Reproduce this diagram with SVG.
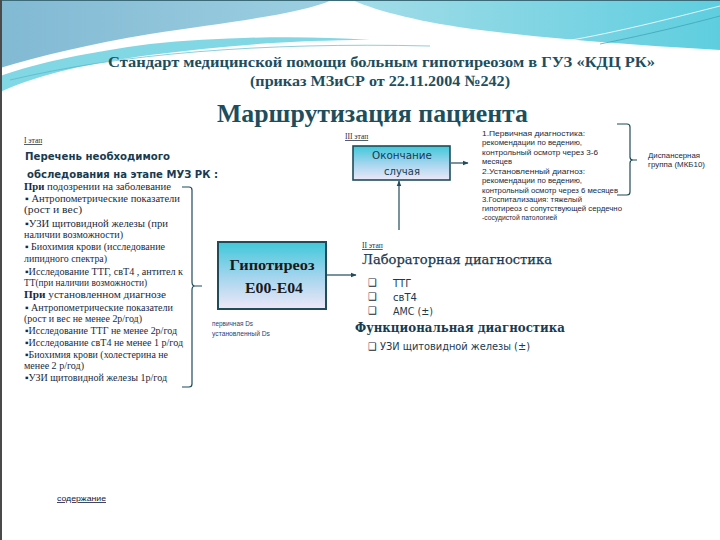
<svg xmlns="http://www.w3.org/2000/svg" width="720" height="540" viewBox="0 0 720 540">
<defs>
<linearGradient id="gLeft" x1="0" y1="0" x2="1" y2="0"><stop offset="0" stop-color="#82b9d3"/><stop offset="1" stop-color="#9ccfe1"/></linearGradient>
<linearGradient id="gRight" x1="0" y1="0" x2="1" y2="0"><stop offset="0" stop-color="#a4dce8"/><stop offset="1" stop-color="#5ecedf"/></linearGradient>
<linearGradient id="gBox" x1="0" y1="0" x2="0" y2="1"><stop offset="0" stop-color="#3fc8d9"/><stop offset="0.5" stop-color="#a0d4ee"/><stop offset="1" stop-color="#eee8f7"/></linearGradient>
<marker id="arr" viewBox="0 0 10 10" refX="9" refY="5" markerWidth="5" markerHeight="5" orient="auto"><path d="M0,1 L10,5 L0,9 Z" fill="#1f4b5a"/></marker>
<style>
.title{font-family:"Liberation Serif",serif;font-weight:bold;fill:#1d4e5e}
.stage{font-family:"Liberation Serif",serif;font-size:7.5px;fill:#1a2a40;text-decoration:underline}
.head{font-family:"DejaVu Sans",sans-serif;font-weight:bold;font-size:11px;fill:#1a3a4f}
.list{font-family:"Liberation Serif",serif;font-size:10px;fill:#1a2a40}
.small{font-family:"Liberation Sans",sans-serif;font-size:7.5px;fill:#1a2a40}
.tiny{font-family:"Liberation Sans",sans-serif;font-size:6.5px;fill:#1f3f7a}
.box{fill:url(#gBox);stroke:#1f4b5a}
.boxt{font-family:"Liberation Serif",serif;font-weight:bold;font-size:15px;fill:#1a1a1a}
.boxs{font-family:"DejaVu Sans",sans-serif;font-size:10px;fill:#1a3a4f}
.lab{font-family:"DejaVu Serif",serif;font-size:13px;fill:#1a3a4f}
.item{font-family:"DejaVu Sans",sans-serif;font-size:10px;fill:#1a3a4f}
.chk{font-family:"DejaVu Sans",sans-serif;font-size:10px;font-weight:bold;fill:#1a2a3a}
.conn{fill:none;stroke:#1f4b5a;stroke-width:1.2}
</style>
</defs>
<rect width="720" height="540" fill="#ffffff"/>
<g id="background">
<path d="M0,0 H332 C300,14 230,22 150,34 C90,44 40,56 0,68 Z" fill="url(#gLeft)"/>
<path d="M0,76 C40,62 90,52 150,44 C220,37 300,35 370,40 C290,40 220,46 150,55 C90,63 40,74 0,92 Z" fill="#62cddd" opacity="0.8"/>
<path d="M352,0 H720 V50 C650,46 560,40 480,30 C420,22 380,12 352,0 Z" fill="url(#gRight)"/>
<path d="M10,80 C120,54 260,42 430,46" fill="none" stroke="#4fb2c4" stroke-width="0.8" opacity="0.8"/>
<path d="M560,42 C620,32 680,16 720,6" fill="none" stroke="#ffffff" stroke-width="0.8"/>
<path d="M600,44 C650,34 690,24 720,16" fill="none" stroke="#3a9fb0" stroke-width="0.7"/>
<line x1="0" y1="0.5" x2="720" y2="0.5" stroke="#3b6a78" stroke-width="1"/>
<rect x="0" y="0" width="2" height="540" fill="#4a4a4a"/>
</g>
<g id="titles">
<text class="title" x="108" y="67" font-size="15.5" textLength="547" lengthAdjust="spacingAndGlyphs">Стандарт медицинской помощи больным гипотиреозом  в  ГУЗ «КДЦ РК»</text>
<text class="title" x="250" y="86" font-size="15.5" textLength="260" lengthAdjust="spacingAndGlyphs">(приказ МЗиСР от 22.11.2004 №242)</text>
<text class="title" x="217" y="122" font-size="25" textLength="311" lengthAdjust="spacingAndGlyphs">Маршрутизация пациента</text>
</g>
<g id="stage1">
<text class="stage" x="24" y="143">I этап</text>
<text class="head" x="25" y="160" textLength="145" lengthAdjust="spacingAndGlyphs">Перечень необходимого</text>
<text class="head" x="27" y="178" textLength="191" lengthAdjust="spacingAndGlyphs"> обследования на этапе МУЗ РК :</text>
<text class="list" x="24" y="190" textLength="147" lengthAdjust="spacingAndGlyphs"><tspan font-weight="bold">При</tspan>  подозрении на заболевание</text>
<text class="list" x="25" y="202" textLength="155" lengthAdjust="spacingAndGlyphs">▪ Антропометрические показатели</text>
<text class="list" x="24" y="213" textLength="58" lengthAdjust="spacingAndGlyphs">(рост и вес)</text>
<text class="list" x="25" y="227" textLength="143" lengthAdjust="spacingAndGlyphs">▪УЗИ щитовидной железы (при</text>
<text class="list" x="24" y="238" textLength="99" lengthAdjust="spacingAndGlyphs">наличии возможности)</text>
<text class="list" x="25" y="250" textLength="140" lengthAdjust="spacingAndGlyphs">▪ Биохимия крови (исследование</text>
<text class="list" x="24" y="262" textLength="83" lengthAdjust="spacingAndGlyphs">липидного спектра)</text>
<text class="list" x="25" y="275" textLength="158" lengthAdjust="spacingAndGlyphs">▪Исследование ТТГ, свТ4 , антител к</text>
<text class="list" x="24" y="286" textLength="123" lengthAdjust="spacingAndGlyphs">ТТ(при наличии возможности)</text>
<text class="list" x="24" y="298" textLength="142" lengthAdjust="spacingAndGlyphs"><tspan font-weight="bold">При</tspan>  установленном диагнозе</text>
<text class="list" x="25" y="311" textLength="148" lengthAdjust="spacingAndGlyphs">▪ Антропометрические показатели</text>
<text class="list" x="24" y="322" textLength="118" lengthAdjust="spacingAndGlyphs">(рост и вес не менее 2р/год)</text>
<text class="list" x="25" y="334" textLength="152" lengthAdjust="spacingAndGlyphs">▪Исследование ТТГ не менее 2р/год</text>
<text class="list" x="25" y="346" textLength="158" lengthAdjust="spacingAndGlyphs">▪Исследование  свТ4 не менее 1 р/год</text>
<text class="list" x="25" y="358" textLength="143" lengthAdjust="spacingAndGlyphs">▪Биохимия крови (холестерина не</text>
<text class="list" x="24" y="369" textLength="60" lengthAdjust="spacingAndGlyphs">менее 2 р/год)</text>
<text class="list" x="25" y="381" textLength="142" lengthAdjust="spacingAndGlyphs">▪УЗИ щитовидной железы 1р/год</text>
</g>
<g id="hypothyroidism">
<rect class="box" x="218" y="242" width="108" height="67" stroke-width="2"/>
<text class="boxt" x="272" y="270" text-anchor="middle" textLength="85" lengthAdjust="spacingAndGlyphs">Гипотиреоз</text>
<text class="boxt" x="274" y="293" text-anchor="middle" textLength="58" lengthAdjust="spacingAndGlyphs">Е00-Е04</text>
<text class="tiny" x="212" y="326" textLength="41" lengthAdjust="spacingAndGlyphs">первичная  Ds</text>
<text class="tiny" x="212" y="336" textLength="58" lengthAdjust="spacingAndGlyphs">установленный  Ds</text>
</g>
<g id="case-end">
<text class="stage" x="345" y="139">III этап</text>
<rect class="box" x="353" y="146" width="97" height="34" stroke-width="1.6"/>
<text class="boxs" x="402" y="159" text-anchor="middle" textLength="60" lengthAdjust="spacingAndGlyphs">Окончание</text>
<text class="boxs" x="402" y="175" text-anchor="middle">случая</text>
</g>
<g id="follow-up">
<text class="small" x="482" y="136" textLength="103" lengthAdjust="spacingAndGlyphs">1.Первичная диагностика:</text>
<text class="small" x="482" y="145" textLength="100" lengthAdjust="spacingAndGlyphs">рекомендации по ведению,</text>
<text class="small" x="482" y="155" textLength="116" lengthAdjust="spacingAndGlyphs">контрольный осмотр через 3-6</text>
<text class="small" x="482" y="164" textLength="30" lengthAdjust="spacingAndGlyphs">месяцев</text>
<text class="small" x="482" y="174" textLength="103" lengthAdjust="spacingAndGlyphs">2.Установленный диагноз:</text>
<text class="small" x="482" y="183" textLength="100" lengthAdjust="spacingAndGlyphs">рекомендации по ведению,</text>
<text class="small" x="482" y="193" textLength="136" lengthAdjust="spacingAndGlyphs">контрольный осмотр через 6 месяцев</text>
<text class="small" x="482" y="202" textLength="100" lengthAdjust="spacingAndGlyphs">3.Госпитализация: тяжелый</text>
<text class="small" x="482" y="211" textLength="140" lengthAdjust="spacingAndGlyphs">гипотиреоз с сопутствующей сердечно</text>
<text class="small" x="482" y="220" textLength="75" lengthAdjust="spacingAndGlyphs">-сосудистой патологией</text>
</g>
<g id="dispensary">
<text class="small" x="648" y="158" textLength="52" lengthAdjust="spacingAndGlyphs">Диспансерная</text>
<text class="small" x="648" y="167" textLength="57" lengthAdjust="spacingAndGlyphs">группа (МКБ10)</text>
</g>
<g id="stage2">
<text class="stage" x="362" y="248">II этап</text>
<text class="lab" x="362" y="264" textLength="190" lengthAdjust="spacingAndGlyphs" stroke="#1a3a4f" stroke-width="0.25">Лабораторная диагностика</text>
<text class="chk" x="368" y="286">❑</text>
<text class="item" x="393" y="287">ТТГ</text>
<text class="chk" x="368" y="300">❑</text>
<text class="item" x="393" y="301">свТ4</text>
<text class="chk" x="368" y="314">❑</text>
<text class="item" x="393" y="315" textLength="40" lengthAdjust="spacingAndGlyphs">АМС (±)</text>
<text class="lab" x="355" y="332" font-weight="bold" textLength="210" lengthAdjust="spacingAndGlyphs">Функциональная диагностика</text>
<text class="item" x="368" y="350" textLength="162" lengthAdjust="spacingAndGlyphs"><tspan font-weight="bold" fill="#1a2a3a">❑</tspan> УЗИ щитовидной железы (±)</text>
</g>
<g id="contents-link">
<text x="57" y="501" font-family="Liberation Sans, sans-serif" font-size="8" fill="#101840" text-decoration="underline" textLength="49" lengthAdjust="spacingAndGlyphs">содержание</text>
</g>
<g id="connectors">
<line class="conn" x1="327" y1="275" x2="356" y2="275" marker-end="url(#arr)"/>
<line class="conn" x1="399" y1="230" x2="399" y2="181" marker-end="url(#arr)"/>
<line class="conn" x1="451" y1="163" x2="468" y2="163" marker-end="url(#arr)"/>
<path class="conn" d="M182,187 H189 Q192,187 192,190 V282 Q192,286 195,286 H202 M195,286 Q192,286 192,290 V384 Q192,387 189,387 H182"/>
<path class="conn" d="M617,124 H627 Q630,124 630,127 V157 Q630,160 633,160 H637 M633,160 Q630,160 630,163 V192 Q630,195 627,195 H617"/>
</g>
</svg>
